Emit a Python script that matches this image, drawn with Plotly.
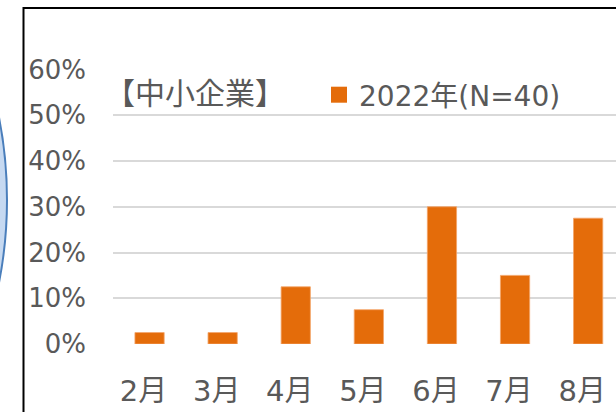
import plotly.graph_objects as go

# データ（中小企業、2022年、N=40）
months = ["2月", "3月", "4月", "5月", "6月", "7月", "8月"]
share_2022 = [0.025, 0.025, 0.125, 0.075, 0.30, 0.15, 0.275]
y_ticks = [0, 0.1, 0.2, 0.3, 0.4, 0.5, 0.6]
series_name = "2022年(N=40)"
panel_title = "【中小企業】"

W, H = 616, 412
ORANGE = "#E46C0A"
GRAY_TEXT = "#595959"
FONT = "DejaVu Sans, Noto Sans CJK JP, sans-serif"

fig = go.Figure()

fig.add_trace(go.Bar(
    x=months,
    y=share_2022,
    marker=dict(color=ORANGE, line=dict(color="#F4A56A", width=0.8)),
    showlegend=False,
))

# 凡例用（四角いマーカー）
fig.add_trace(go.Scatter(
    x=[None], y=[None],
    mode="markers",
    name=series_name,
    marker=dict(symbol="square", size=16, color=ORANGE),
))

# プロット領域（ピクセル位置から換算）
x_left, y_zero, y_top = 113, 344, 69.5
step = 73.1

fig.update_layout(
    width=W, height=H,
    margin=dict(l=0, r=0, t=0, b=0),
    paper_bgcolor="white",
    plot_bgcolor="white",
    font=dict(family=FONT, color=GRAY_TEXT, size=26),
    bargap=0.6,
    hovermode=False,
    xaxis=dict(
        domain=[x_left / W, 1],
        range=[-0.5, -0.5 + (W - x_left) / step],
        showgrid=False,
        showline=False,
        ticks="",
        tickfont=dict(size=29),
        ticklabelstandoff=27,
        ticklabelshift=-6,
        automargin=False,
    ),
    yaxis=dict(
        domain=[1 - y_zero / H, 1 - y_top / H],
        range=[0, 0.6],
        tickvals=y_ticks,
        tickformat=".0%",
        showgrid=True,
        gridcolor="#D9D9D9",
        gridwidth=2,
        zeroline=False,
        showline=False,
        ticks="",
        tickfont=dict(size=26),
        ticklabelstandoff=26,
        automargin=False,
    ),
    legend=dict(
        x=319 / W, xanchor="left",
        y=1 - 95 / H, yanchor="middle",
        bgcolor="rgba(0,0,0,0)",
        font=dict(size=28, color=GRAY_TEXT),
    ),
    showlegend=True,
)

fig.add_annotation(
    text=panel_title,
    xref="paper", yref="paper",
    x=103 / W, y=1 - 93 / H,
    xanchor="left", yanchor="middle",
    showarrow=False,
    font=dict(size=30, color=GRAY_TEXT),
)

# 左側の青い円（一部だけ見えている）
fig.add_shape(
    type="circle", xref="paper", yref="paper",
    x0=-847 / W, x1=7 / W,
    y0=1 - 627 / H, y1=1 - (-227) / H,
    fillcolor="#C6D9F1",
    line=dict(color="#4A7EBB", width=2),
    layer="below",
)

# 黒い枠線
fig.add_shape(
    type="rect", xref="paper", yref="paper",
    x0=23.5 / W, x1=1.05,
    y0=-0.05, y1=1 - 8 / H,
    line=dict(color="black", width=2),
    fillcolor="rgba(0,0,0,0)",
    layer="above",
)

fig.write_html(
    "out.html",
    config={"displayModeBar": False, "staticPlot": True},
    post_script="document.body.style.margin='0';",
)
